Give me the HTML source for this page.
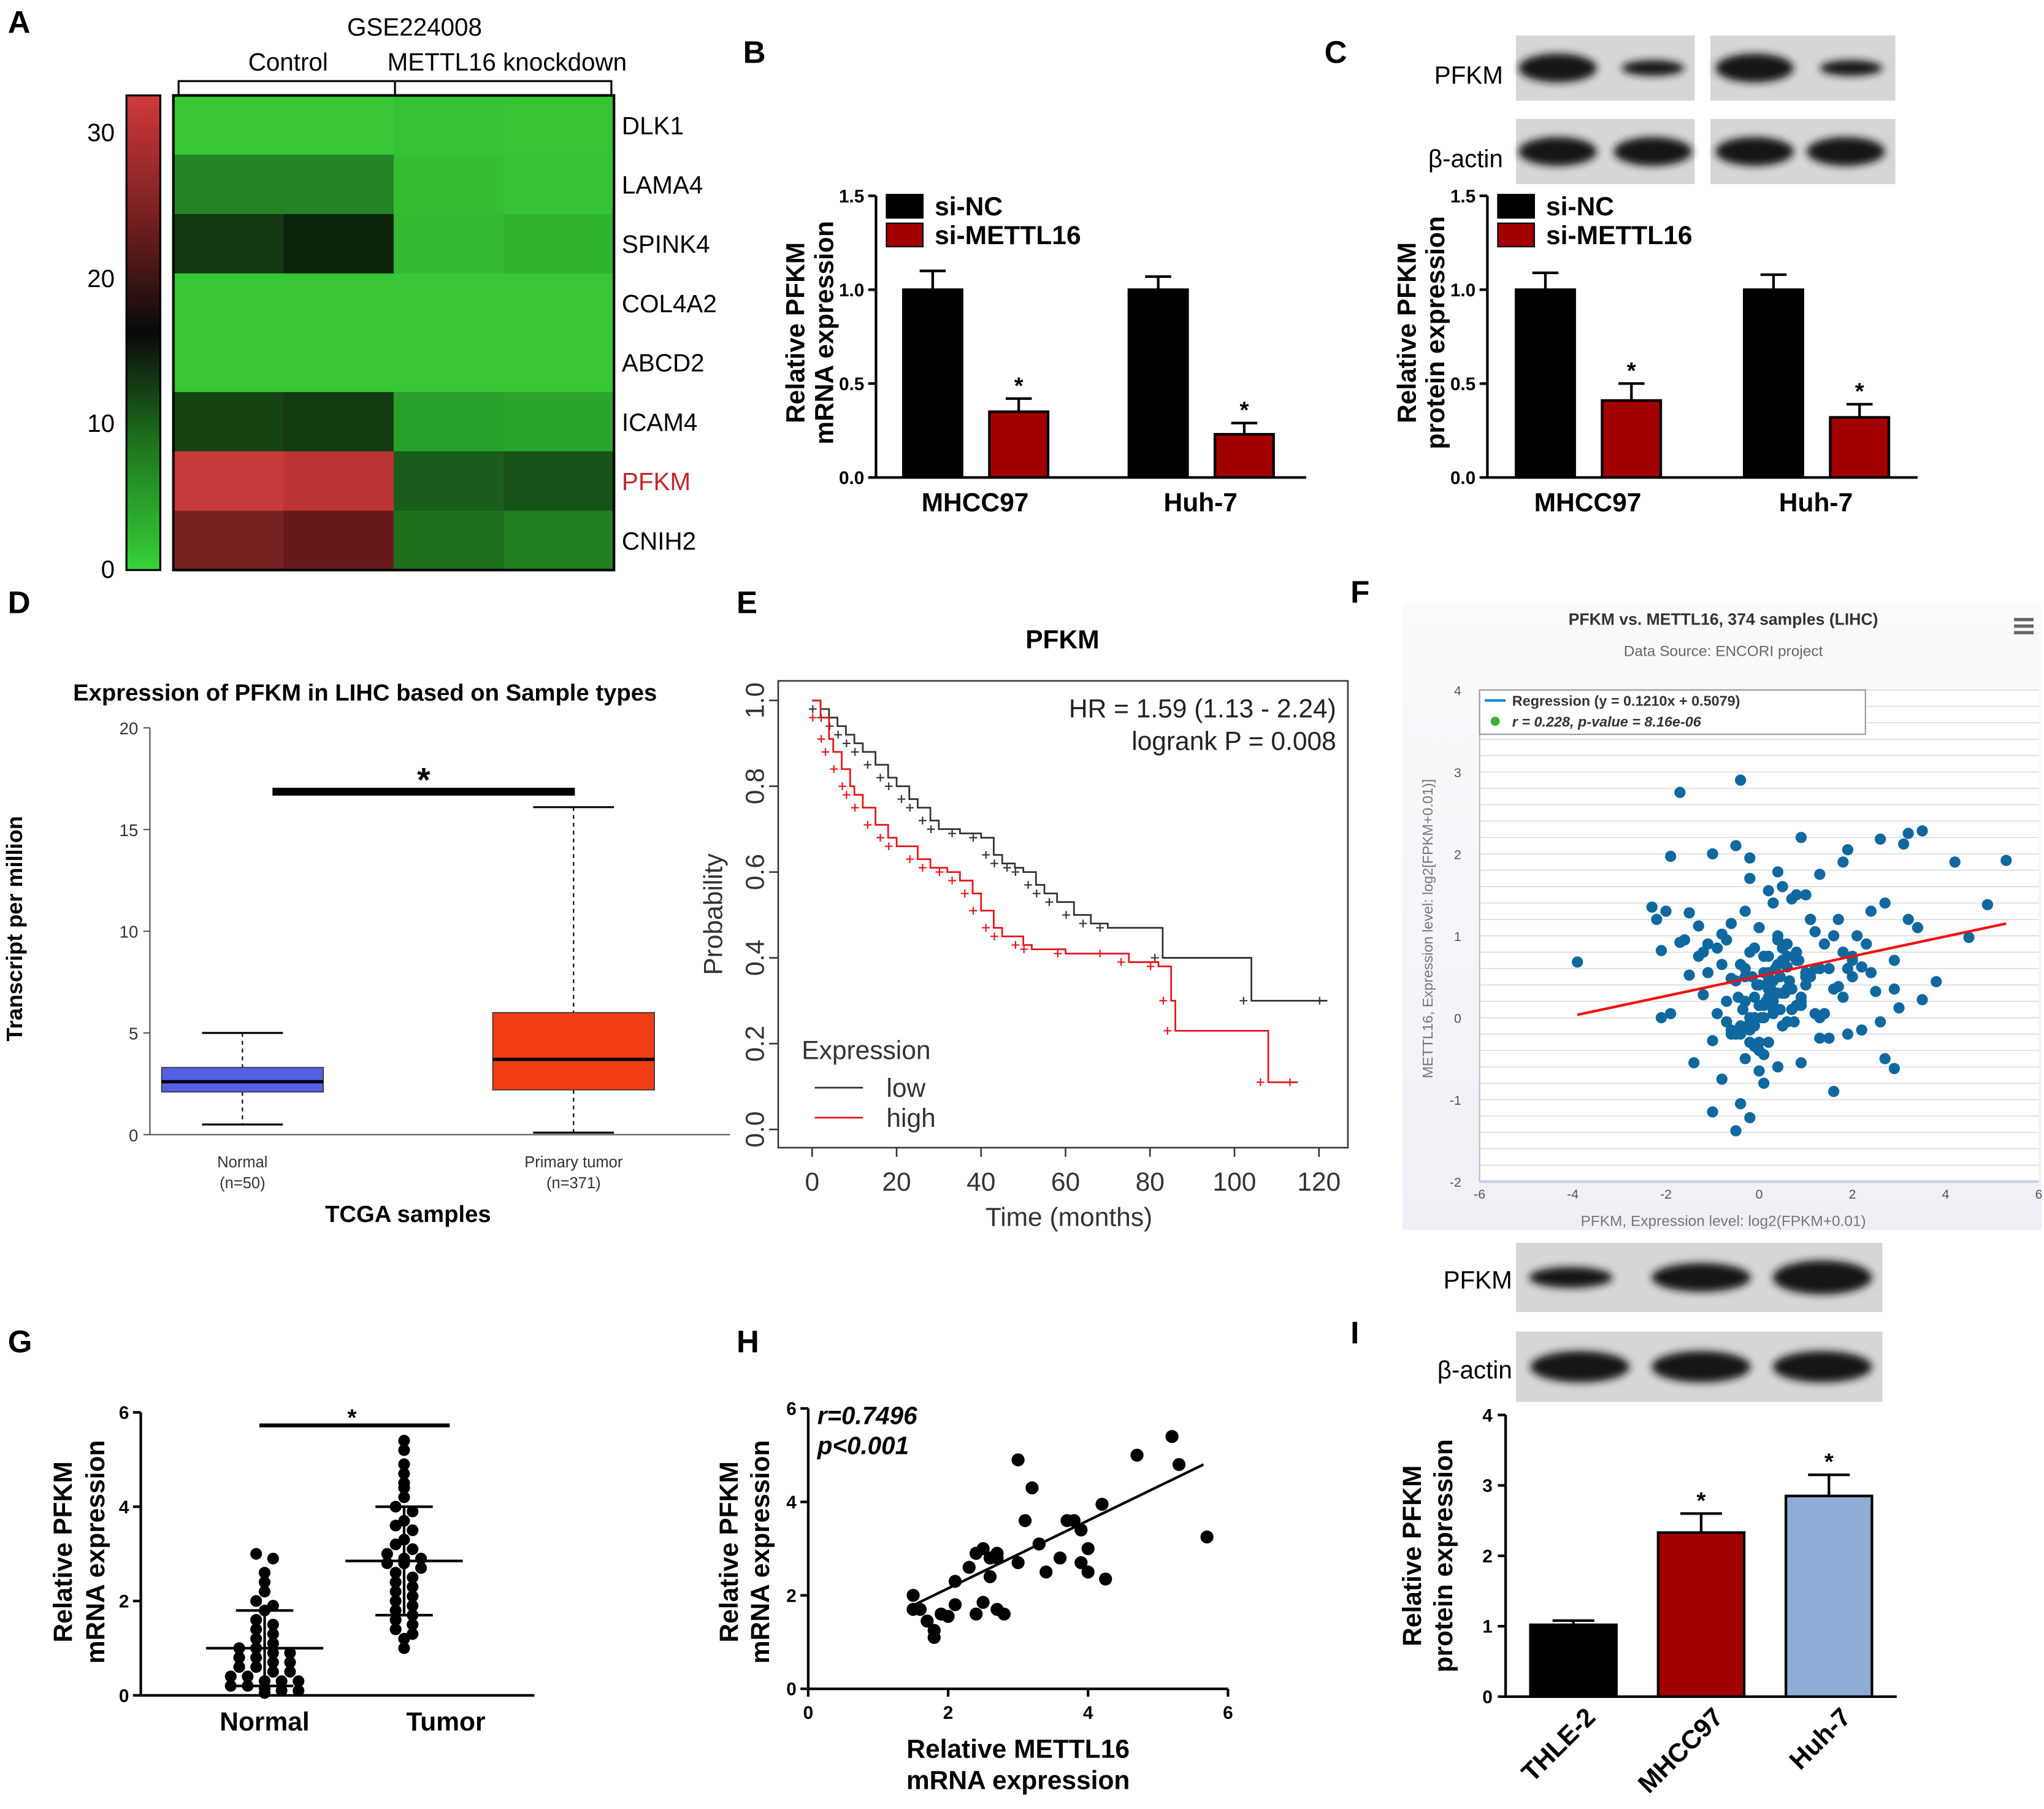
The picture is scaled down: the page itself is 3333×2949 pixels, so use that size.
<!DOCTYPE html>
<html><head><meta charset="utf-8">
<style>
html,body{margin:0;padding:0;background:#fff;}
svg{display:block;font-family:"Liberation Sans",Arial,sans-serif;}
</style></head>
<body>
<svg id="fig" xmlns="http://www.w3.org/2000/svg" width="3333" height="2949" viewBox="0 0 1568 1387">
<defs>
<linearGradient id="cbar" x1="0" y1="0" x2="0" y2="1">
<stop offset="0" stop-color="#d03a3a"/><stop offset="0.25" stop-color="#7a2020"/><stop offset="0.5" stop-color="#0a0a0a"/><stop offset="0.75" stop-color="#1f7a1f"/><stop offset="1" stop-color="#36d236"/>
</linearGradient>
<linearGradient id="fbg" x1="0" y1="0" x2="0" y2="1"><stop offset="0" stop-color="#fbfbfd"/><stop offset="1" stop-color="#eef0f5"/></linearGradient>
<filter id="soft" x="-30%" y="-60%" width="160%" height="220%"><feGaussianBlur stdDeviation="3"/></filter>
</defs>
<g id="panels"></g>
</svg>
<script>
// ---------- DATA ----------
const heatGenes=["DLK1","LAMA4","SPINK4","COL4A2","ABCD2","ICAM4","PFKM","CNIH2"];
const heatColors=[
["#36c636","#36c636","#34c234","#34c434"],
["#248524","#248524","#33bd33","#35c335"],
["#143814","#0c230c","#32ba32","#2fb32f"],
["#36c636","#36c636","#36c636","#36c636"],
["#36c636","#36c636","#36c636","#36c636"],
["#154415","#133c13","#29a029","#2aa62a"],
["#c83a3a","#bd3232","#1a5c1a","#175217"],
["#772222","#681a1a","#1e6f1e","#218021"]];
const bCats=["MHCC97","Huh-7"];
const bNC=[1.0,1.0], bNCerr=[0.1,0.07];
const bSI=[0.35,0.23], bSIerr=[0.07,0.06];
const cNC=[1.0,1.0], cNCerr=[0.09,0.08];
const cSI=[0.41,0.32], cSIerr=[0.09,0.07];
const dStats=[{n:"Normal",s:"(n=50)",lo:0.5,q1:2.1,med:2.6,q3:3.3,hi:5.0,c:"#5560e6"},{n:"Primary tumor",s:"(n=371)",lo:0.1,q1:2.2,med:3.7,q3:6.0,hi:16.1,c:"#f23c16"}];
const kmLowT=[0,2,4,6,8,10,12,15,18,20,23,25,28,30,35,40,43,45,48,50,53,55,58,62,66,70,83,104,122];
const kmLowP=[1,0.98,0.96,0.94,0.92,0.9,0.88,0.85,0.82,0.8,0.77,0.75,0.72,0.7,0.69,0.68,0.64,0.62,0.61,0.6,0.57,0.55,0.53,0.5,0.48,0.47,0.4,0.3,0.3];
const kmHighT=[0,2,4,5,7,9,10,12,15,18,20,25,28,32,35,38,40,43,45,50,52,60,70,75,82,85,86,108,115];
const kmHighP=[1,0.96,0.91,0.88,0.84,0.8,0.78,0.75,0.71,0.68,0.66,0.63,0.61,0.6,0.58,0.55,0.51,0.47,0.45,0.43,0.42,0.41,0.41,0.39,0.38,0.3,0.23,0.11,0.11];
const fX=[-3.9,-1.7,-0.4,-2.3,-2.0,-1.9,-1.0,-0.5,-0.2,-0.2,0.4,0.9,1.3,1.9,1.8,2.6,3.2,3.5,3.1,4.2,5.3,4.9,4.5,3.8,3.5,3.2,2.7,2.5,2.9,3.0,2.9,3.4,2.6,2.2,1.9,2.7,2.9,-2.1,-1.7,-1.5,-1.3,-1.1,-2.2,-2.1,-1.5,-1.4,-1.2,-1.0,-0.8,-0.8,-0.5,-1.0,-0.2,-0.4,-0.1,0.1,0.0,0.4,-0.3,-0.6,-0.9,-1.2,-1.1,-0.7,-0.6,-0.3,0.0,0.2,0.3,0.5,0.7,0.8,1.0,1.1,1.2,1.4,1.6,1.7,1.8,2.0,2.1,2.3,2.4,0.6,0.9,1.2,1.5,1.8,2.0,2.2,2.4,1.3,1.6,0.2,0.5,0.8,1.0,1.4,1.7,-0.2,-0.1,0.1,0.3,0.6,0.7,0.9,1.1,0.4,0.2,-0.3,-0.5,-0.7,-0.9,-0.6,-0.4,-0.2,0.0,0.1,0.3,0.5,0.6,0.8,1.0,1.2,1.3,-0.1,0.2,0.4,0.6,-0.2,-0.4,0.0,0.3,-0.3,0.1,0.5,0.7,0.9,-0.6,-0.8,-1.3,-1.6,-1.9,-0.1,0.2,0.4,1.1,1.3,1.5,-0.5,-0.3,0.0,0.2,0.4,-0.2,0.0,0.1,0.3,0.5,0.8,1.0,0.6,0.2,-0.1,-0.4,-0.7,0.9,1.6,1.9,2.0,-0.15,0.05,0.25,0.45,-0.35,-0.05,0.15,0.35,0.55,-0.25,0.0,0.3,0.65,0.85,-0.45,0.1,0.45,0.75];
const fY=[0.68,2.75,2.9,1.35,1.3,1.97,2.0,2.1,1.95,1.7,1.78,2.2,1.75,2.05,1.9,2.18,2.25,2.28,2.12,1.9,1.92,1.38,0.98,0.44,0.22,1.2,1.4,0.32,0.35,0.12,0.7,1.1,-0.05,-0.15,-0.2,-0.5,-0.62,0.0,0.92,1.28,1.12,0.55,1.2,0.82,0.52,-0.55,0.28,-0.28,-0.75,1.02,-1.38,-1.15,-1.22,-1.05,0.25,-0.8,-0.65,-0.6,0.5,0.48,0.85,0.8,0.9,0.95,1.15,1.3,1.1,1.55,1.4,1.6,1.45,1.5,1.5,1.2,1.05,0.9,1.0,1.2,0.8,0.75,1.0,0.9,1.3,0.62,0.2,0.05,0.6,0.25,0.5,0.62,0.55,-0.25,0.35,0.35,0.3,0.15,0.55,0.05,0.38,0.0,-0.1,0.15,0.2,-0.05,0.1,0.25,0.5,0.65,0.75,0.6,0.45,0.2,0.05,-0.15,-0.2,-0.3,-0.4,-0.45,0.3,0.7,0.9,0.8,0.4,0.6,0.6,0.85,0.55,1.0,0.75,0.8,0.65,0.4,0.1,0.2,0.0,-0.1,0.35,0.15,-0.2,0.65,0.75,0.95,0.05,-0.35,-0.3,0.95,1.2,0.0,-0.25,-0.2,-0.5,0.15,0.45,0.3,-0.15,-0.3,0.75,0.45,0.85,0.7,0.5,0.35,0.25,0.0,-0.1,-0.05,-0.55,-0.9,0.6,0.7,0.5,0.0,0.35,0.5,0.1,0.4,0.2,0.6,0.3,-0.1,0.15,0.05,0.45,0.7,0.25,0.55,0.1,-0.05,0.95,0.85];
const gNormal=[3.0,2.9,2.6,2.4,2.2,2.0,1.9,1.8,1.6,1.5,1.4,1.3,1.2,1.1,1.0,1.0,0.9,0.9,0.8,0.8,0.7,0.7,0.6,0.6,0.5,0.5,0.4,0.4,0.3,0.3,0.3,0.2,0.2,0.15,0.1,0.1,0.05];
const gTumor=[5.4,5.2,4.9,4.7,4.5,4.4,4.2,4.0,3.9,3.7,3.6,3.5,3.3,3.2,3.1,3.0,2.9,2.9,2.8,2.8,2.7,2.6,2.5,2.4,2.3,2.2,2.1,2.0,1.9,1.8,1.7,1.6,1.5,1.4,1.3,1.2,1.0];
const gMean=[1.0,2.85], gSD=[0.8,1.15];
const hX=[1.5,1.5,1.7,1.8,1.9,2.0,2.1,1.8,1.6,2.3,2.4,2.5,2.6,2.7,2.6,2.5,2.4,2.7,2.8,2.7,3.0,3.1,3.2,3.4,3.6,3.7,3.8,3.9,4.0,4.2,4.25,3.9,3.0,3.3,4.7,5.2,5.3,5.7,2.1,2.4,4.0];
const hY=[2.0,1.7,1.45,1.25,1.6,1.55,1.8,1.1,1.7,2.6,2.9,3.0,2.8,2.8,2.4,1.85,1.6,1.7,1.6,2.9,4.9,3.6,4.3,2.5,2.8,3.6,3.6,3.4,3.0,3.95,2.35,2.7,2.7,3.1,5.0,5.4,4.8,3.25,2.3,2.9,2.5];
const iCats=["THLE-2","MHCC97","Huh-7"];
const iVals=[1.02,2.33,2.85], iErr=[0.06,0.27,0.3];
const iCols=["#000000","#a30000","#8eacd6"];

// ---------- HELPERS ----------
const NS="http://www.w3.org/2000/svg";
const root=document.getElementById('panels');
function el(tag,attrs,parent,text){const e=document.createElementNS(NS,tag);for(const k in attrs)e.setAttribute(k,attrs[k]);if(text!==undefined)e.textContent=text;(parent||root).appendChild(e);return e;}
function line(x1,y1,x2,y2,s,w,p,name){const e=el('line',{x1,y1,x2,y2,stroke:s||'#000','stroke-width':w||2},p);

return e;}
function txt(x,y,t,size,opts,p,name){const a=Object.assign({x,y,'font-size':size},opts||{});const e=el('text',a,p,t);

return e;}
function grp(name){const g=el('g',{});

return g;}

const letters=[["A",6,25],["B",570,48],["C",1016,48],["D",6,470],["E",565,470],["F",1036,462],["G",6,1037],["H",565,1037],["I",1036,1030]];
letters.forEach(l=>{txt(l[1],l[2],l[0],24,{'font-weight':'bold'},null,'panel-letter-'+l[0].toLowerCase());});

// ---------- PANEL A ----------
(function(){const g=grp('heatmap-panel');
const x0=133,x1=471,y0=73,y1=437;const cw=(x1-x0)/4,rh=(y1-y0)/8;
heatColors.forEach((row,i)=>row.forEach((c,j)=>{const r=el('rect',{x:x0+j*cw,y:y0+i*rh,width:cw+0.5,height:rh+0.5,fill:c},g);

}));
el('rect',{x:x0,y:y0,width:x1-x0,height:y1-y0,fill:'none',stroke:'#000','stroke-width':2},g);
heatGenes.forEach((n,i)=>txt(477,y0+i*rh+rh/2+7,n,19,{fill:n==="PFKM"?"#c0282b":"#000"},g,'gene-label'));
const cb=el('rect',{x:97,y:73,width:26,height:364,fill:'url(#cbar)',stroke:'#000','stroke-width':1.5},g);

[[30,101],[20,213],[10,324],[0,436]].forEach(t=>txt(88,t[1]+7,String(t[0]),19,{'text-anchor':'end'},g,'color-scale-tick'));
txt(318,27,"GSE224008",19,{'text-anchor':'middle'},g,'dataset-title');
txt(221,54,"Control",19,{'text-anchor':'middle'},g,'group-label-control');
txt(389,54,"METTL16 knockdown",19,{'text-anchor':'middle'},g,'group-label-knockdown');
el('path',{d:'M137,72 V62 H303 V72 M303,62 H469 V72',fill:'none',stroke:'#000','stroke-width':1.5},g);
})();

// ---------- BAR PANELS B,C ----------
function barPanel(name,ax,cats,nc,ncE,si,siE,offs,ylab1,ylab2){
const g=grp(name);const y0=366,ymax=150;const ys=v=>y0-v/1.5*(y0-ymax);
line(ax,ymax,ax,y0,'#000',2,g,'y-axis');line(ax,y0,ax+330,y0,'#000',2,g,'x-axis');
[0,0.5,1.0,1.5].forEach(t=>{line(ax-6,ys(t),ax,ys(t),'#000',2,g,'y-tick');txt(ax-9,ys(t)+5,t.toFixed(1),14,{'text-anchor':'end','font-weight':'bold'},g,'y-tick-label');});
cats.forEach((c,i)=>{const bx=ax+offs[i];
[[nc[i],ncE[i],'#000',bx],[si[i],siE[i],'#a30000',bx+66]].forEach((b,k)=>{
const r=el('rect',{x:b[3],y:ys(b[0]),width:45,height:y0-ys(b[0]),fill:b[2],stroke:'#000','stroke-width':2},g);

const cx=b[3]+22.5;line(cx,ys(b[0]),cx,ys(b[0]+b[1]),'#000',2,g,'error-bar');line(cx-10,ys(b[0]+b[1]),cx+10,ys(b[0]+b[1]),'#000',2,g,'error-cap');
if(k)txt(cx,ys(b[0]+b[1])-4,'*',18,{'text-anchor':'middle','font-weight':'bold'},g,'significance-star');});
txt(bx+55,392,c,20,{'text-anchor':'middle','font-weight':'bold'},g,'x-category-label');});
[['si-NC','#000',158],['si-METTL16','#a30000',180]].forEach(l=>{const r=el('rect',{x:ax+8,y:l[2]-9,width:28,height:18,fill:l[1],stroke:'#000'},g);txt(ax+45,l[2]+7,l[0],20,{'font-weight':'bold'},g,'legend-entry');});
txt(0,0,ylab1,20,{'text-anchor':'middle','font-weight':'bold',transform:`translate(${ax-55},255) rotate(-90)`},g,'y-axis-title');
txt(0,0,ylab2,20,{'text-anchor':'middle','font-weight':'bold',transform:`translate(${ax-33},255) rotate(-90)`},g,'y-axis-title');
}
barPanel('bar-chart-b',672,bCats,bNC,bNCerr,bSI,bSIerr,[21,194],'Relative PFKM','mRNA expression');
barPanel('bar-chart-c',1141,bCats,cNC,cNCerr,cSI,cSIerr,[22,197],'Relative PFKM','protein expression');

function blot(name,label,lx,ly,boxes,y,h,bands){const g=grp(name);
boxes.forEach(b=>{const r=el('rect',{x:b[0],y:y,width:b[1],height:h,fill:'#d6d6d6'},g);});
bands.forEach(b=>{const e=el('ellipse',{cx:b[0],cy:y+h/2,rx:b[1],ry:b[2],fill:'#151515',filter:'url(#soft)'},g);});
txt(lx,ly,label,19,{'text-anchor':'end'},g,'blot-label');}
blot('blot-c-pfkm','PFKM',1153,64,[[1163,137],[1312,142]],27,50,[[1195,30,11],[1268,24,6],[1346,30,11],[1420,24,6]]);
blot('blot-c-actin','β-actin',1153,128,[[1163,137],[1312,142]],91,50,[[1195,30,11],[1268,30,11],[1346,30,11],[1416,30,11]]);
blot('blot-i-pfkm','PFKM',1160,988,[[1163,281]],953,53,[[1205,32,8],[1305,38,11],[1398,38,13]]);
blot('blot-i-actin','β-actin',1160,1057,[[1163,281]],1021,54,[[1212,38,12],[1305,38,12],[1398,38,12]]);

// ---------- PANEL D ----------
(function(){const g=grp('boxplot-d');const y0=870,yt=558;const ys=v=>y0-v/20*(y0-yt);
line(115,yt,115,y0,'#555',1,g,'y-axis');line(115,y0,560,y0,'#555',1,g,'x-axis');
[0,5,10,15,20].forEach(t=>{line(110,ys(t),115,ys(t),'#555',1,g,'y-tick');txt(106,ys(t)+5,String(t),13,{'text-anchor':'end',fill:'#333'},g,'y-tick-label');});
const xs=[186,440];
dStats.forEach((d,i)=>{const x=xs[i];
line(x,ys(d.hi),x,ys(d.q3),'#000',1,g,'whisker').setAttribute('stroke-dasharray','3,3');
line(x,ys(d.q1),x,ys(d.lo),'#000',1,g,'whisker').setAttribute('stroke-dasharray','3,3');
line(x-31,ys(d.hi),x+31,ys(d.hi),'#000',1.5,g,'whisker-cap');line(x-31,ys(d.lo),x+31,ys(d.lo),'#000',1.5,g,'whisker-cap');
const r=el('rect',{x:x-62,y:ys(d.q3),width:124,height:ys(d.q1)-ys(d.q3),fill:d.c,stroke:'#333','stroke-width':0.8},g);
line(x-62,ys(d.med),x+62,ys(d.med),'#000',2.5,g,'median-line');
txt(x,895,d.n,12,{'text-anchor':'middle',fill:'#333'},g,'x-category-label');txt(x,911,d.s,12,{'text-anchor':'middle',fill:'#333'},g,'x-category-count');});
line(209,607,441,607,'#000',6,g,'significance-bar');txt(325,607,'*',26,{'text-anchor':'middle','font-weight':'bold'},g,'significance-star');
txt(280,537,'Expression of PFKM in LIHC based on Sample types',18,{'text-anchor':'middle','font-weight':'bold'},g,'chart-title');
txt(313,937,'TCGA samples',18,{'text-anchor':'middle','font-weight':'bold'},g,'x-axis-title');
txt(0,0,'Transcript per million',17,{'text-anchor':'middle','font-weight':'bold',transform:'translate(17,712) rotate(-90)'},g,'y-axis-title');
})();

// ---------- PANEL E ----------
(function(){const g=grp('km-plot-e');const xs=t=>623+t*3.24,ys=p=>866-p*329;
el('rect',{x:597,y:522,width:437,height:358,fill:'none',stroke:'#333','stroke-width':1.2},g);
[0,20,40,60,80,100,120].forEach(t=>{line(xs(t),880,xs(t),887,'#333',1.2,g,'x-tick');txt(xs(t),913,String(t),20,{'text-anchor':'middle',fill:'#333'},g,'x-tick-label');});
[0,0.2,0.4,0.6,0.8,1.0].forEach(t=>{line(590,ys(t),597,ys(t),'#333',1.2,g,'y-tick');txt(0,0,t.toFixed(1),20,{'text-anchor':'middle',fill:'#333',transform:`translate(586,${ys(t)}) rotate(-90)`},g,'y-tick-label');});
function curve(T,P,col,nm){let d=`M${xs(T[0])},${ys(P[0])}`;for(let i=1;i<T.length;i++){d+=` H${xs(T[i])} V${ys(P[i])}`;}
const p=el('path',{d,fill:'none',stroke:col,'stroke-width':1.3},g);
for(let i=1;i<T.length;i++){const x=xs(T[i])-4,y=ys(P[i]);el('path',{d:`M${x-2},${y-3}v6M${x-5},${y}h6`,stroke:col,'stroke-width':1},g);}}
curve(kmLowT,kmLowP,'#333','km-curve-low');curve(kmHighT,kmHighP,'#e8141b','km-curve-high');
txt(815,497,'PFKM',20,{'text-anchor':'middle','font-weight':'bold'},g,'chart-title');
txt(1025,550,'HR = 1.59 (1.13 - 2.24)',20,{'text-anchor':'end',fill:'#222'},g,'hazard-ratio');
txt(1025,575,'logrank P = 0.008',20,{'text-anchor':'end',fill:'#222'},g,'logrank-p');
txt(615,812,'Expression',20,{fill:'#333'},g,'legend-title');
line(625,834,662,834,'#333',1.3,g,'legend-line-low');txt(680,841,'low',20,{fill:'#333'},g,'legend-entry');
line(625,857,662,857,'#e8141b',1.3,g,'legend-line-high');txt(680,864,'high',20,{fill:'#333'},g,'legend-entry');
txt(820,940,'Time (months)',20,{'text-anchor':'middle',fill:'#333'},g,'x-axis-title');
txt(0,0,'Probability',20,{'text-anchor':'middle',fill:'#333',transform:'translate(554,701) rotate(-90)'},g,'y-axis-title');
})();

// ---------- PANEL F ----------
(function(){const g=grp('scatter-f');
el('rect',{x:1076,y:462,width:490,height:481,fill:'url(#fbg)'},g);
const xs=v=>1135+(v+6)/12*429,ys=v=>906-(v+2)/6*377;
el('rect',{x:1135,y:529,width:429,height:377,fill:'#fff'},g);
for(let v=-2;v<=4.001;v+=0.2){line(1135,ys(v),1564,ys(v),'#d8d8d8',0.7,g,'grid-line');}
line(1135,529,1135,906,'#bbb',1,g,'y-axis');line(1135,906,1564,906,'#c8cde0',2,g,'x-axis');
[-2,-1,0,1,2,3,4].forEach(t=>txt(1121,ys(t)+4,String(t),10,{'text-anchor':'end',fill:'#555'},g,'y-tick-label'));
[-6,-4,-2,0,2,4,6].forEach(t=>txt(xs(t),919,String(t),10,{'text-anchor':'middle',fill:'#555'},g,'x-tick-label'));
fX.forEach((x,i)=>{const c=el('circle',{cx:xs(x),cy:ys(fY[i]),r:4.3,fill:'#1068a0'},g);});
line(xs(-3.9),ys(0.1211*-3.9+0.5079),xs(5.3),ys(0.121*5.3+0.5079),'#f01010',2,g,'regression-line');
el('rect',{x:1135,y:529,width:296,height:34,fill:'#fff',stroke:'#999','stroke-width':1},g);
line(1139,537,1155,537,'#1a8ad4',2,g,'legend-line');txt(1160,541,'Regression (y = 0.1210x + 0.5079)',11,{'font-weight':'bold',fill:'#333'},g,'legend-entry');
el('circle',{cx:1147,cy:553,r:3.5,fill:'#3cb030'},g);txt(1160,557,'r = 0.228, p-value = 8.16e-06',11,{'font-weight':'bold','font-style':'italic',fill:'#333'},g,'legend-entry');
txt(1322,479,'PFKM vs. METTL16, 374 samples (LIHC)',12.5,{'text-anchor':'middle','font-weight':'bold',fill:'#333'},g,'chart-title');
txt(1322,503,'Data Source: ENCORI project',11.5,{'text-anchor':'middle',fill:'#666'},g,'chart-subtitle');
txt(1322,940,'PFKM, Expression level: log2(FPKM+0.01)',11.5,{'text-anchor':'middle',fill:'#777'},g,'x-axis-title');
txt(0,0,'METTL16, Expression level: log2[FPKM+0.01)]',11,{'text-anchor':'middle',fill:'#777',transform:'translate(1099,712) rotate(-90)'},g,'y-axis-title');
const m=el('path',{d:'M1545,475h15M1545,480h15M1545,485h15',stroke:'#666','stroke-width':2.5},g);
})();

// ---------- PANEL G ----------
(function(){const g=grp('dotplot-g');const y0=1300,yt=1083;const ys=v=>y0-v/6*(y0-yt);
line(108,yt,108,y0,'#000',2,g,'y-axis');line(108,y0,410,y0,'#000',2,g,'x-axis');
[0,2,4,6].forEach(t=>{line(102,ys(t),108,ys(t),'#000',2,g,'y-tick');txt(99,ys(t)+5,String(t),14,{'text-anchor':'end','font-weight':'bold'},g,'y-tick-label');});
const cx=[203,310];
[gNormal,gTumor].forEach((arr,k)=>{const cnt={};arr.forEach(v=>{const key=Math.round(v*5);cnt[key]=(cnt[key]||0)+1;});const seen={};
arr.forEach(v=>{const key=Math.round(v*5);const n=cnt[key];const i=(seen[key]=(seen[key]||0)+1)-1;const x=cx[k]+(i-(n-1)/2)*13;
const c=el('circle',{cx:x,cy:ys(v),r:4.5,fill:'#000'},g);});
line(cx[k]-45,ys(gMean[k]),cx[k]+45,ys(gMean[k]),'#000',2,g,'mean-line');
const hi=gMean[k]+gSD[k],lo=Math.max(0,gMean[k]-gSD[k]);line(cx[k],ys(hi),cx[k],ys(lo),'#000',2,g,'sd-line');
line(cx[k]-22,ys(hi),cx[k]+22,ys(hi),'#000',2,g,'sd-cap');line(cx[k]-22,ys(lo),cx[k]+22,ys(lo),'#000',2,g,'sd-cap');});
txt(203,1327,'Normal',20,{'text-anchor':'middle','font-weight':'bold'},g,'x-category-label');
txt(342,1327,'Tumor',20,{'text-anchor':'middle','font-weight':'bold'},g,'x-category-label');
line(199,1093,345,1093,'#000',3,g,'significance-bar');txt(270,1093,'*',18,{'text-anchor':'middle','font-weight':'bold'},g,'significance-star');
txt(0,0,'Relative PFKM',20,{'text-anchor':'middle','font-weight':'bold',transform:'translate(55,1190) rotate(-90)'},g,'y-axis-title');
txt(0,0,'mRNA expression',20,{'text-anchor':'middle','font-weight':'bold',transform:'translate(80,1190) rotate(-90)'},g,'y-axis-title');
})();

// ---------- PANEL H ----------
(function(){const g=grp('scatter-h');const xs=v=>620+v/6*322,ys=v=>1295-v/6*215;
line(620,1080,620,1295,'#000',2,g,'y-axis');line(620,1295,942,1295,'#000',2,g,'x-axis');
[0,2,4,6].forEach(t=>{line(614,ys(t),620,ys(t),'#000',2,g,'y-tick');txt(611,ys(t)+5,String(t),14,{'text-anchor':'end','font-weight':'bold'},g,'y-tick-label');
line(xs(t),1295,xs(t),1301,'#000',2,g,'x-tick');txt(xs(t),1318,String(t),14,{'text-anchor':'middle','font-weight':'bold'},g,'x-tick-label');});
hX.forEach((x,i)=>{const c=el('circle',{cx:xs(x),cy:ys(hY[i]),r:5,fill:'#000'},g);});
line(xs(1.45),ys(1.75),xs(5.65),ys(4.8),'#000',2,g,'regression-line');
txt(627,1092,'r=0.7496',19,{'font-weight':'bold','font-style':'italic'},g,'correlation-r');
txt(627,1115,'p<0.001',19,{'font-weight':'bold','font-style':'italic'},g,'p-value');
txt(781,1348,'Relative METTL16',20,{'text-anchor':'middle','font-weight':'bold'},g,'x-axis-title');
txt(781,1372,'mRNA expression',20,{'text-anchor':'middle','font-weight':'bold'},g,'x-axis-title');
txt(0,0,'Relative PFKM',20,{'text-anchor':'middle','font-weight':'bold',transform:'translate(566,1190) rotate(-90)'},g,'y-axis-title');
txt(0,0,'mRNA expression',20,{'text-anchor':'middle','font-weight':'bold',transform:'translate(590,1190) rotate(-90)'},g,'y-axis-title');
})();

// ---------- PANEL I ----------
(function(){const g=grp('bar-chart-i');const y0=1301,yt=1085;const ys=v=>y0-v/4*(y0-yt);
line(1155,yt,1155,y0,'#000',2,g,'y-axis');line(1155,y0,1455,y0,'#000',2,g,'x-axis');
[0,1,2,3,4].forEach(t=>{line(1149,ys(t),1155,ys(t),'#000',2,g,'y-tick');txt(1145,ys(t)+5,String(t),14,{'text-anchor':'end','font-weight':'bold'},g,'y-tick-label');});
const bx=[1174,1272,1370];
iVals.forEach((v,i)=>{const r=el('rect',{x:bx[i],y:ys(v),width:66,height:y0-ys(v),fill:iCols[i],stroke:'#000','stroke-width':2},g);

const cx=bx[i]+33;line(cx,ys(v),cx,ys(v+iErr[i]),'#000',2,g,'error-bar');line(cx-16,ys(v+iErr[i]),cx+16,ys(v+iErr[i]),'#000',2,g,'error-cap');
if(i>0)txt(cx,ys(v+iErr[i])-4,'*',18,{'text-anchor':'middle','font-weight':'bold'},g,'significance-star');
txt(0,0,iCats[i],20,{'text-anchor':'end','font-weight':'bold',transform:`translate(${cx+18},1318) rotate(-45)`},g,'x-category-label');});
txt(0,0,'Relative PFKM',20,{'text-anchor':'middle','font-weight':'bold',transform:'translate(1090,1193) rotate(-90)'},g,'y-axis-title');
txt(0,0,'protein expression',20,{'text-anchor':'middle','font-weight':'bold',transform:'translate(1114,1193) rotate(-90)'},g,'y-axis-title');
})();
</script>
</body></html>
